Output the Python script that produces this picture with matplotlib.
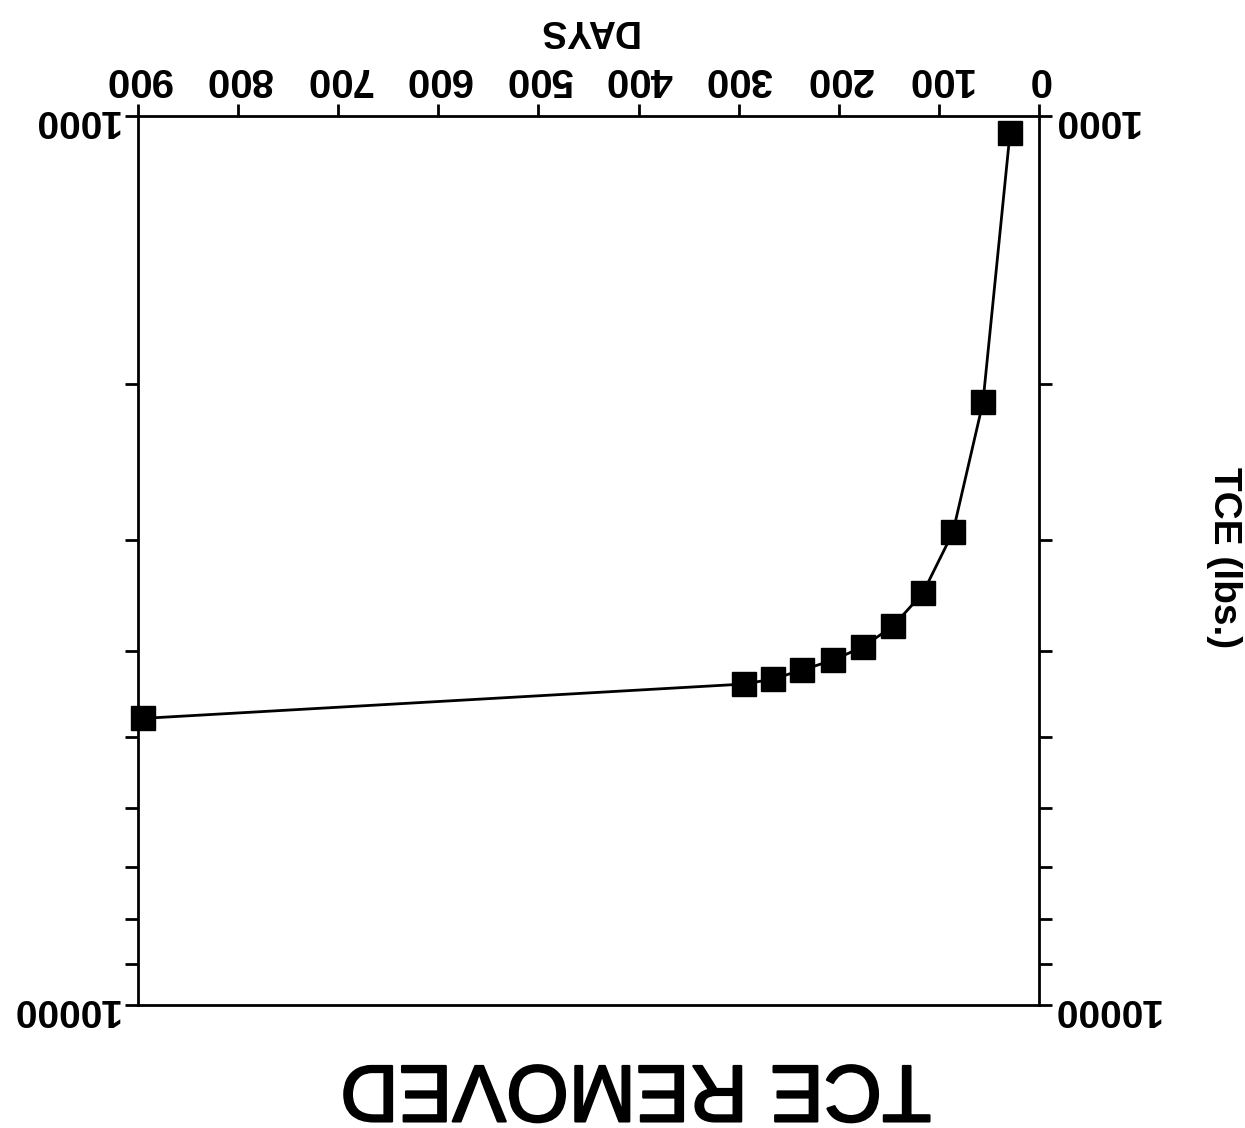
import matplotlib
matplotlib.use("Agg")
import matplotlib.pyplot as plt
import matplotlib.patheffects as pe
from matplotlib.ticker import NullFormatter
from matplotlib.transforms import ScaledTranslation

# Data (figure is a scanned page, rotated 180 degrees)
days = [29, 56, 86, 116, 146, 176, 206, 237, 266, 295, 895]
tce_lbs = [1046, 2100, 2940, 3440, 3750, 3955, 4095, 4200, 4300, 4355, 4760]

x_ticks = [0, 100, 200, 300, 400, 500, 600, 700, 800, 900]
x_tick_labels = [str(v) for v in x_ticks]
y_major = [1000, 10000]
y_major_labels = ["1000", "10000"]
y_minor = [2000, 3000, 4000, 5000, 6000, 7000, 8000, 9000]

title = "TCE REMOVED"
x_label = "DAYS"
y_label = "TCE (lbs.)"

plt.rcParams['font.family'] = ['Liberation Sans', 'DejaVu Sans']

W, H = 1245, 1128
fig = plt.figure(figsize=(W / 100, H / 100), dpi=100)
fig.patch.set_facecolor('white')

left_px, right_px, top_px, bot_px = 138, 1039, 116, 1005
ax = fig.add_axes([left_px / W, 1 - bot_px / H, (right_px - left_px) / W, (bot_px - top_px) / H])

ax.plot(days, tce_lbs, color='black', lw=2.0, marker='s', markersize=17,
        markerfacecolor='black', markeredgecolor='black', clip_on=False, zorder=3)

ax.set_yscale('log')
ax.set_xlim(900, 0)
ax.set_ylim(10000, 1000)

for s in ax.spines.values():
    s.set_linewidth(2.0)
    s.set_color('black')

ax.xaxis.tick_top()
ax.set_xticks(x_ticks)
ax.set_xticklabels(x_tick_labels, rotation=180, fontweight='bold')
ax.tick_params(axis='x', which='both', top=True, bottom=False, labeltop=True, labelbottom=False,
               direction='out', length=9, width=2.0, pad=4, labelsize=29)

ax.set_yticks(y_major)
ax.set_yticklabels(y_major_labels, fontweight='bold')
ax.set_yticks(y_minor, minor=True)
ax.yaxis.set_minor_formatter(NullFormatter())
ax.tick_params(axis='y', which='both', left=True, right=True, labelleft=True, labelright=True,
               direction='out', length=9.5, width=2.0, pad=4.5, labelsize=28, labelrotation=180)

shift = ScaledTranslation(-7 / 100, 0, fig.dpi_scale_trans)
for t in ax.yaxis.get_major_ticks():
    t.label2.set_transform(t.label2.get_transform() + shift)

thick = [pe.withStroke(linewidth=1.6, foreground='black')]
fig.text(636 / W, 1 - 1087 / H, title, rotation=180, ha='center', va='center',
         fontsize=58, color='black', path_effects=thick)
fig.text(587 / W, 1 - 30 / H, x_label, rotation=180, ha='center', va='center',
         fontsize=27, fontweight='bold', color='black')
fig.text(1224 / W, 1 - 558 / H, y_label, rotation=270, ha='center', va='center',
         fontsize=28, fontweight='bold', color='black')

fig.savefig('out.png', dpi=100, facecolor='white')
